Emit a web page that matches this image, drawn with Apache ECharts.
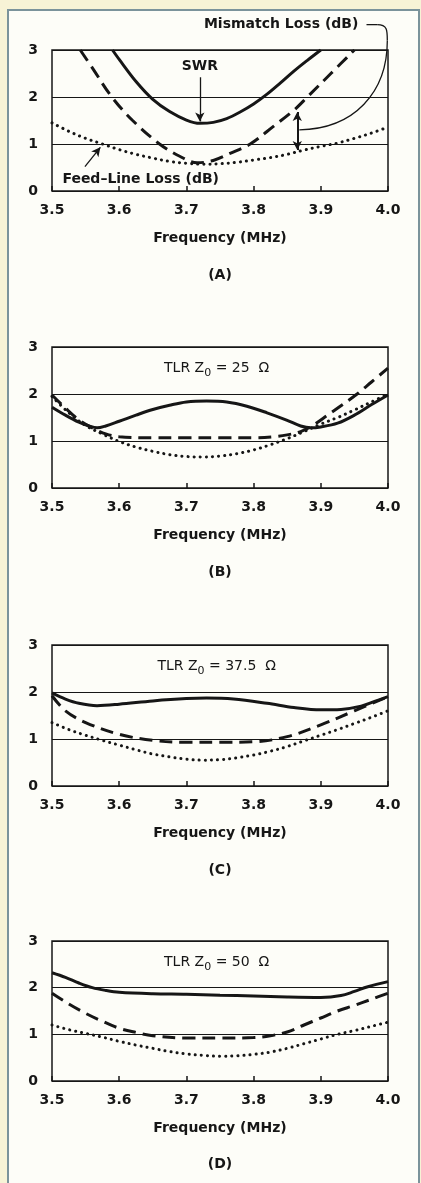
<!DOCTYPE html>
<html>
<head>
<meta charset="utf-8">
<title>SWR, mismatch and feed-line loss</title>
<script src="https://cdn.jsdelivr.net/npm/echarts@6/dist/echarts.min.js"></script>
<style>
html, body { margin: 0; padding: 0; background: #f7f3d6; }
#frame { position: absolute; left: 7px; top: 9px; width: 409px; height: 1180px;
         border: 2px solid #7b939b; border-bottom: none; background: #fdfdf8; }
#chart { position: absolute; left: 0; top: 0; width: 421px; height: 1183px; }
</style>
</head>
<body>
<div id="frame"></div>
<div id="chart"></div>
<script>
// frequency (MHz), value
var swrA = [[3.59, 3.0], [3.6, 2.8], [3.625, 2.33], [3.65, 1.95], [3.675, 1.69], [3.7, 1.51], [3.72, 1.44],
	[3.74, 1.46], [3.76, 1.54], [3.78, 1.68], [3.8, 1.85], [3.82, 2.06], [3.84, 2.3], [3.86, 2.55],
	[3.88, 2.78], [3.9, 3.0]];
var mismatchA = [[3.542, 3.0], [3.56, 2.62], [3.589, 2.0], [3.62, 1.5], [3.66, 1.0], [3.69, 0.74], [3.716, 0.6],
	[3.74, 0.65], [3.765, 0.8], [3.795, 1.0], [3.83, 1.38], [3.86, 1.72], [3.88, 2.0], [3.915, 2.5], [3.95, 3.0]];
var feedA = [[3.5, 1.45], [3.525, 1.27], [3.55, 1.12], [3.575, 1.0], [3.6, 0.88], [3.625, 0.78], [3.65, 0.7],
	[3.675, 0.63], [3.7, 0.59], [3.725, 0.57], [3.75, 0.58], [3.775, 0.61], [3.8, 0.66], [3.825, 0.71],
	[3.85, 0.78], [3.875, 0.87], [3.9, 0.95], [3.925, 1.02], [3.95, 1.12], [3.975, 1.23], [4.0, 1.36]];

var swrB = [[3.5, 1.72], [3.52, 1.55], [3.54, 1.4], [3.555, 1.32], [3.567, 1.28], [3.58, 1.32], [3.6, 1.42],
	[3.625, 1.55], [3.65, 1.67], [3.675, 1.76], [3.7, 1.83], [3.73, 1.85], [3.76, 1.83], [3.79, 1.74],
	[3.82, 1.6], [3.85, 1.44], [3.87, 1.32], [3.885, 1.28], [3.9, 1.3], [3.925, 1.38], [3.95, 1.55],
	[3.975, 1.77], [4.0, 1.98]];
var mismatchB = [[3.5, 1.98], [3.52, 1.7], [3.54, 1.45], [3.56, 1.28], [3.58, 1.15], [3.6, 1.09], [3.65, 1.07],
	[3.7, 1.07], [3.75, 1.07], [3.8, 1.07], [3.83, 1.09], [3.85, 1.13], [3.87, 1.2], [3.89, 1.35], [3.91, 1.55],
	[3.93, 1.75], [3.954, 2.0], [3.975, 2.25], [4.0, 2.55]];
var feedB = [[3.5, 1.95], [3.525, 1.6], [3.55, 1.33], [3.575, 1.15], [3.6, 0.99], [3.625, 0.87], [3.65, 0.78],
	[3.675, 0.71], [3.7, 0.67], [3.725, 0.66], [3.75, 0.68], [3.775, 0.73], [3.8, 0.81], [3.825, 0.92],
	[3.85, 1.05], [3.875, 1.2], [3.9, 1.36], [3.925, 1.5], [3.95, 1.66], [3.975, 1.83], [4.0, 2.0]];

var swrC = [[3.5, 1.98], [3.52, 1.85], [3.54, 1.76], [3.567, 1.71], [3.6, 1.74], [3.65, 1.81], [3.7, 1.86],
	[3.73, 1.87], [3.77, 1.85], [3.82, 1.76], [3.86, 1.67], [3.9, 1.62], [3.93, 1.63], [3.96, 1.7],
	[3.98, 1.8], [4.0, 1.9]];
var mismatchC = [[3.5, 1.92], [3.52, 1.6], [3.55, 1.35], [3.6, 1.1], [3.65, 0.97], [3.7, 0.93], [3.75, 0.93],
	[3.8, 0.94], [3.85, 1.05], [3.9, 1.3], [3.95, 1.6], [4.0, 1.9]];
var feedC = [[3.5, 1.35], [3.525, 1.2], [3.55, 1.08], [3.575, 0.97], [3.6, 0.87], [3.625, 0.77], [3.65, 0.68],
	[3.675, 0.62], [3.7, 0.57], [3.725, 0.55], [3.75, 0.56], [3.775, 0.6], [3.8, 0.66], [3.825, 0.74],
	[3.85, 0.84], [3.875, 0.96], [3.9, 1.08], [3.925, 1.2], [3.95, 1.33], [3.975, 1.46], [4.0, 1.6]];

var swrD = [[3.5, 2.32], [3.52, 2.22], [3.54, 2.1], [3.56, 2.0], [3.58, 1.94], [3.6, 1.9], [3.65, 1.87],
	[3.7, 1.86], [3.75, 1.84], [3.8, 1.82], [3.85, 1.8], [3.9, 1.79], [3.93, 1.83], [3.95, 1.92],
	[3.97, 2.02], [4.0, 2.13]];
var mismatchD = [[3.5, 1.88], [3.525, 1.65], [3.55, 1.45], [3.575, 1.28], [3.6, 1.13], [3.625, 1.04],
	[3.65, 0.97], [3.7, 0.92], [3.75, 0.92], [3.8, 0.93], [3.825, 0.97], [3.85, 1.05], [3.875, 1.2],
	[3.9, 1.35], [3.925, 1.5], [3.95, 1.62], [3.975, 1.75], [4.0, 1.88]];
var feedD = [[3.5, 1.2], [3.525, 1.1], [3.55, 1.02], [3.575, 0.94], [3.6, 0.85], [3.625, 0.77], [3.65, 0.7],
	[3.675, 0.63], [3.7, 0.58], [3.725, 0.55], [3.75, 0.53], [3.775, 0.54], [3.8, 0.57], [3.825, 0.62],
	[3.85, 0.7], [3.875, 0.8], [3.9, 0.9], [3.925, 1.0], [3.95, 1.08], [3.975, 1.17], [4.0, 1.26]];

var panelLabels = ['(A)', '(B)', '(C)', '(D)'];
var panelZ0 = [null, '25', '37.5', '50'];
var xTicks = { min: 3.5, max: 4.0, step: 0.1 };
var yTicks = { min: 0, max: 3, step: 1 };

var panels = [
	{ swr: swrA, mismatch: mismatchA, feed: feedA },
	{ swr: swrB, mismatch: mismatchB, feed: feedB },
	{ swr: swrC, mismatch: mismatchC, feed: feedC },
	{ swr: swrD, mismatch: mismatchD, feed: feedD }
];

var FONT = 'DejaVu Sans';
var INK = '#161616';
var gridTops = [50, 347, 645, 941];

var lineKinds = {
	solid: { width: 3, type: 'solid' },
	dashed: { width: 3, type: [13, 7] },
	dotted: { width: 3, type: [0.1, 6], cap: 'round' }
};

function lineSeries(idx, data, kind, extra) {
	var s = {
		type: 'line',
		xAxisIndex: idx,
		yAxisIndex: idx,
		data: data,
		symbol: 'none',
		smooth: 0.35,
		clip: true,
		silent: true,
		animation: false,
		lineStyle: Object.assign({ color: INK }, lineKinds[kind])
	};
	return Object.assign(s, extra || {});
}

function arrowLine(from, to, symbols, width) {
	return {
		silent: true,
		animation: false,
		symbol: symbols,
		symbolSize: [7, 9],
		label: { show: false },
		lineStyle: { type: 'solid', color: INK, width: width },
		emphasis: { disabled: true },
		data: [[{ coord: from }, { coord: to }]]
	};
}

var grids = [], xAxes = [], yAxes = [], series = [];

panels.forEach(function (p, i) {
	grids.push({
		left: 52, width: 336, top: gridTops[i], height: i === 3 ? 140 : 141,
		show: true, borderColor: INK, borderWidth: 1.5, backgroundColor: 'transparent'
	});
	xAxes.push({
		type: 'value', gridIndex: i,
		min: xTicks.min, max: xTicks.max, interval: xTicks.step,
		name: 'Frequency (MHz)', nameLocation: 'middle', nameGap: 40,
		nameTextStyle: { fontFamily: FONT, fontWeight: 'bold', fontSize: 14, color: INK },
		axisLine: { show: false },
		axisTick: { show: true, inside: true, length: 5, lineStyle: { color: INK, width: 1.5 } },
		axisLabel: {
			margin: 12, fontFamily: FONT, fontWeight: 'bold', fontSize: 14, color: INK,
			formatter: function (v) { return v.toFixed(1); }
		},
		splitLine: { show: false }
	});
	yAxes.push({
		type: 'value', gridIndex: i,
		min: yTicks.min, max: yTicks.max, interval: yTicks.step,
		axisLine: { show: false },
		axisTick: { show: false },
		axisLabel: { margin: 14, fontFamily: FONT, fontWeight: 'bold', fontSize: 14, color: INK },
		splitLine: { show: true, lineStyle: { color: INK, width: 1.2 } }
	});

	var swrExtra = null, mmExtra = null, feedExtra = null;
	if (i === 0) {
		swrExtra = { markLine: arrowLine([3.72, 2.42], [3.72, 1.48], ['none', 'arrow'], 1.3) };
		mmExtra = { markLine: arrowLine([3.865, 1.68], [3.865, 0.87], ['arrow', 'arrow'], 2) };
		feedExtra = { markLine: arrowLine([3.549, 0.52], [3.572, 0.93], ['none', 'arrow'], 1.3) };
	}
	series.push(lineSeries(i, p.feed, 'dotted', feedExtra));
	series.push(lineSeries(i, p.mismatch, 'dashed', mmExtra));
	series.push(lineSeries(i, p.swr, 'solid', swrExtra));
});

var chart = echarts.init(document.getElementById('chart'), null, { renderer: 'canvas' });
chart.setOption({
	backgroundColor: 'transparent',
	animation: false,
	grid: grids,
	xAxis: xAxes,
	yAxis: yAxes,
	series: series
});

function px(i, pt) {
	return chart.convertToPixel({ xAxisIndex: i, yAxisIndex: i }, pt);
}

function label(i, pt, text, weight, size) {
	var p = px(i, pt);
	return {
		type: 'text', x: p[0], y: p[1], silent: true,
		style: {
			text: text, fill: INK, align: 'center', verticalAlign: 'middle',
			font: (weight || 'bold') + ' ' + (size || 14) + 'px "' + FONT + '"'
		}
	};
}

var graphics = [];

// panel (A) annotations
graphics.push(label(0, [3.72, 2.66], 'SWR'));
graphics.push(label(0, [3.632, 0.24], 'Feed\u2013Line Loss (dB)'));
graphics.push(label(0, [3.841, 3.55], 'Mismatch Loss (dB)'));

var l0 = px(0, [3.968, 3.54]), l1 = px(0, [3.984, 3.54]);
var c0 = px(0, [3.999, 3.42]), c1 = px(0, [3.999, 3.2]);
var cp1 = px(0, [3.999, 2.1]), cp2 = px(0, [3.95, 1.32]), l2 = px(0, [3.868, 1.3]);
graphics.push({
	type: 'line', silent: true,
	shape: { x1: l0[0], y1: l0[1], x2: l1[0], y2: l1[1] },
	style: { stroke: INK, lineWidth: 1.3 }
});
graphics.push({
	type: 'bezierCurve', silent: true,
	shape: { x1: l1[0], y1: l1[1], cpx1: c0[0], cpy1: l1[1], cpx2: c0[0], cpy2: c0[1], x2: c1[0], y2: c1[1] },
	style: { stroke: INK, lineWidth: 1.3, fill: 'none' }
});
graphics.push({
	type: 'bezierCurve', silent: true,
	shape: { x1: c1[0], y1: c1[1], cpx1: cp1[0], cpy1: cp1[1], cpx2: cp2[0], cpy2: cp2[1], x2: l2[0], y2: l2[1] },
	style: { stroke: INK, lineWidth: 1.3, fill: 'none' }
});

panels.forEach(function (p, i) {
	graphics.push(label(i, [3.75, -1.79], panelLabels[i], 'bold', 14));
	if (panelZ0[i]) {
		var t = px(i, [3.745, 2.54]);
		graphics.push({
			type: 'text', x: t[0], y: t[1], silent: true,
			style: {
				text: 'TLR Z{s|0} = ' + panelZ0[i] + '  \u03A9',
				fill: INK, align: 'center', verticalAlign: 'middle',
				font: 'normal 14px "' + FONT + '"',
				rich: { s: { fontSize: 11, fontFamily: FONT, fill: INK, padding: [9, 0, 0, 0] } }
			}
		});
	}
});

chart.setOption({ graphic: graphics });
</script>
</body>
</html>
